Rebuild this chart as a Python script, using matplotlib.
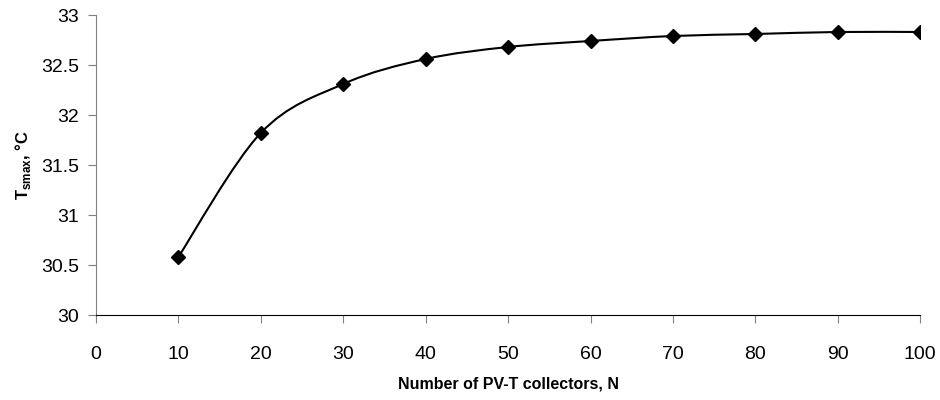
import numpy as np
import matplotlib
matplotlib.use('Agg')
import matplotlib.pyplot as plt
from matplotlib.path import Path
from matplotlib.patches import PathPatch

plt.rcParams['font.family'] = ['Liberation Sans', 'DejaVu Sans']
plt.rcParams['mathtext.fontset'] = 'custom'
plt.rcParams['mathtext.rm'] = 'Liberation Sans'
plt.rcParams['mathtext.bf'] = 'Liberation Sans:bold'

# collectors and max storage temperature
n_collectors = [10, 20, 30, 40, 50, 60, 70, 80, 90, 100]
t_smax = [30.58, 31.82, 32.31, 32.56, 32.68, 32.74, 32.79, 32.81, 32.83, 32.83]

x_ticks = list(range(0, 101, 10))
y_ticks = [30, 30.5, 31, 31.5, 32, 32.5, 33]

fig = plt.figure(figsize=(9.4, 4), dpi=100)
ax = fig.add_axes([0.102, 0.2125, 0.877, 0.75])

# smoothed line like the spreadsheet one (cubic bezier through the points)
pts = np.column_stack([n_collectors, t_smax]).astype(float)
verts = [pts[0]]
codes = [Path.MOVETO]
for i in range(len(pts) - 1):
    p0 = pts[i - 1] if i > 0 else pts[i]
    p1 = pts[i]
    p2 = pts[i + 1]
    p3 = pts[i + 2] if i + 2 < len(pts) else pts[i + 1]
    c1 = p1 + (p2 - p0) / 6
    c2 = p2 - (p3 - p1) / 6
    verts += [c1, c2, p2]
    codes += [Path.CURVE4] * 3
ax.add_patch(PathPatch(Path(verts, codes), facecolor='none', edgecolor='black', lw=1.5))
ax.plot(n_collectors, t_smax, linestyle='none', marker='D', markersize=7, color='black')

ax.set_xlim(0, 100)
ax.set_ylim(30, 33)
ax.set_xticks(x_ticks)
ax.set_yticks(y_ticks)
ax.set_yticklabels([f'{v:g}' for v in y_ticks])

for s in ['top', 'right']:
    ax.spines[s].set_visible(False)
ax.spines['left'].set_color('#808080')
ax.spines['bottom'].set_color('black')
ax.tick_params(axis='both', direction='out', length=6, color='#808080', labelsize=14)
ax.tick_params(axis='y', pad=6)
ax.tick_params(axis='x', pad=16)

ax.set_xlabel('Number of PV-T collectors, N', fontsize=11.5, fontweight='bold', labelpad=10)
ax.set_ylabel(r'T$_{\mathbf{smax}}$, °C', fontsize=12, fontweight='bold', labelpad=6)

fig.savefig('out.png', dpi=100)
